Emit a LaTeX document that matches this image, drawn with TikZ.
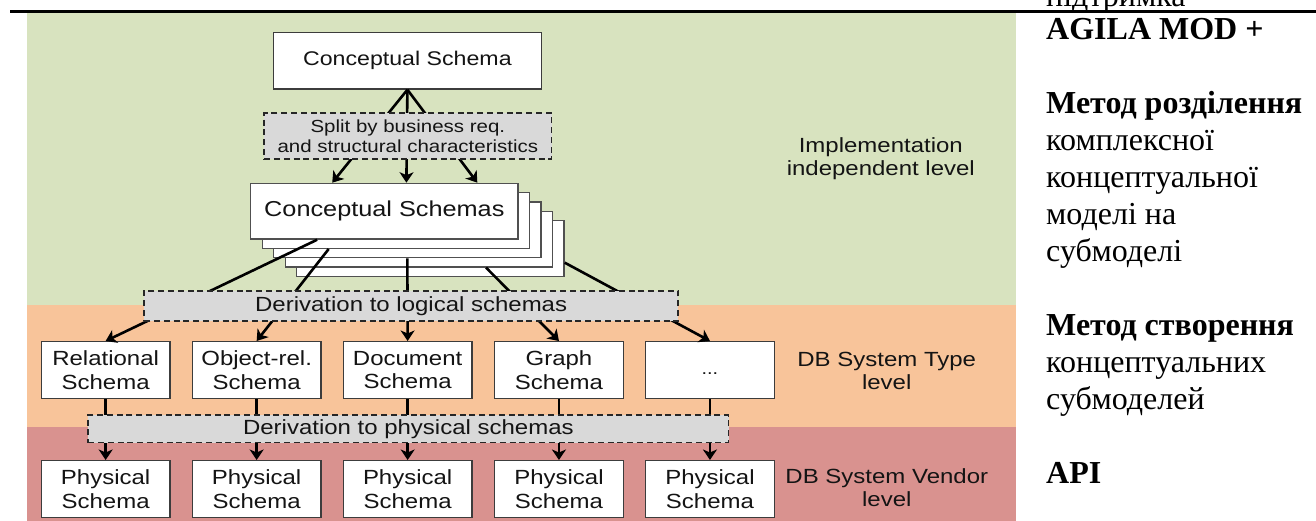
\documentclass[tikz,border=0pt]{standalone}
\usepackage{fontspec}
\setmainfont{Liberation Serif}
\newfontfamily\dg[FakeStretch=1.17]{Liberation Sans}
\usetikzlibrary{arrows.meta,calc}
\definecolor{bandgreen}{RGB}{216,227,191}
\definecolor{bandorange}{RGB}{248,196,154}
\definecolor{bandred}{RGB}{217,146,143}
\definecolor{boxgray}{RGB}{217,217,217}
\definecolor{edge}{RGB}{60,60,60}
\definecolor{ink}{RGB}{20,20,20}

\begin{document}
\begin{tikzpicture}[x=1pt,y=-1pt,
  box/.style={draw=edge, fill=white, line width=1.4pt, inner sep=0pt, align=center,
    text=ink, anchor=north west, font=\dg\fontsize{20.5}{23.4}\selectfont},
  typebox/.style={box, minimum width=128.5pt, minimum height=56.7pt},
  stackbox/.style={box, draw=edge!90, minimum width=267.3pt, minimum height=55.6pt,
    font=\dg\fontsize{21.6}{24}\selectfont},
  dashbox/.style={draw=black!85, fill=boxgray, line width=1.7pt, dash pattern=on 6pt off 3.8pt,
    inner sep=0pt, align=center, text=ink, anchor=north west, font=\dg\fontsize{20.5}{23.4}\selectfont},
  conn/.style={line width=2.6pt, draw=black},
  arr/.style={conn, -{Stealth[length=10.5pt,width=14pt,inset=3pt]}},
  lab/.style={align=center, text=ink, font=\dg\fontsize{20.5}{23}\selectfont},
  rtn/.style={anchor=base west, inner sep=0pt, font=\fontsize{32}{36.9}\selectfont},
  rtb/.style={anchor=base west, inner sep=0pt, font=\bfseries\fontsize{32}{36.9}\selectfont}]

\useasboundingbox (0,0) rectangle (1316,521);
\clip (0,0) rectangle (1316,521);

% level bands
\fill[bandgreen]  (26.7,13.3)  rectangle (1015.5,305);
\fill[bandorange] (26.7,305)   rectangle (1015.5,426.7);
\fill[bandred]    (26.7,426.7) rectangle (1015.5,521);

% top conceptual schema
\node[box, minimum width=268pt, minimum height=56.6pt, font=\dg\fontsize{19.8}{23}\selectfont]
  (cs) at (272.7,31.7) {Conceptual Schema};

% stack of conceptual sub-schemas, back to front
\node[stackbox] (s5) at (296,219.9) {};
\node[stackbox] (s4) at (284.5,210.6) {};
\node[stackbox] (s3) at (273,201.3) {};
\node[stackbox] (s2) at (261.5,192) {};
\node[stackbox] (s1) at (250,182.7) {Conceptual Schemas};

% logical schemas per DB system type
\node[typebox] (l1) at (40.7,341)  {Relational\\Schema};
\node[typebox] (l2) at (191.7,341) {Object-rel.\\Schema};
\node[typebox] (l3) at (342.7,341) {Document\\Schema};
\node[typebox] (l4) at (494,341)   {Graph\\Schema};
\node[typebox, font=\dg\fontsize{17}{20}\selectfont] (l5) at (645,341) {\strut...};

% physical schemas per DB system vendor
\node[typebox] (p1) at (40.7,460)  {Physical\\Schema};
\node[typebox] (p2) at (191.7,460) {Physical\\Schema};
\node[typebox] (p3) at (342.7,460) {Physical\\Schema};
\node[typebox] (p4) at (494,460)   {Physical\\Schema};
\node[typebox] (p5) at (645,460)   {Physical\\Schema};

% split into conceptual sub-schemas
\draw[arr] (cs.south) -- ($(s1.north west)!0.306!(s1.north east)$);
\draw[arr] (cs.south) -- ($(s1.north west)!0.582!(s1.north east)$);
\draw[arr] (cs.south) -- ($(s1.north west)!0.846!(s1.north east)$);

% derivation to logical schemas
\draw[arr] ($(s1.south west)!0.25!(s1.south east)$) -- (l1.north);
\draw[arr] ($(s2.south west)!0.25!(s2.south east)$) -- (l2.north);
\draw[arr] (s3.south) -- (l3.north);
\draw[arr] ($(s4.south west)!0.75!(s4.south east)$) -- (l4.north);
\draw[arr] ($(s5.north east)!0.75!(s5.south east)$) -- (l5.north);

% derivation to physical schemas
\foreach \i in {1,...,5} \draw[arr] (l\i.south) -- (p\i.north);

% process steps laid over the connectors
\node[dashbox, minimum width=287.4pt, minimum height=46pt, font=\dg\fontsize{17.5}{19.3}\selectfont]
  (split) at (263.3,112.3) {Split by business req.\\and structural characteristics};
\node[dashbox, minimum width=534pt, minimum height=30pt] (dlog) at (143.3,290) {Derivation to logical schemas};
\node[dashbox, minimum width=640.4pt, minimum height=27.7pt] (dphys) at (87.3,414) {Derivation to physical schemas};

% level names
\node[lab] (lv1) at (880.8,159)   {Implementation\\independent level};
\node[lab] (lv2) at (886.7,370.5) {DB System Type\\level};
\node[lab] (lv3) at (886.8,487.2) {DB System Vendor\\level};

% side notes
\node[rtn] (t0)  at (1046,6.5)   {підтримка};
\node[rtb] (t1)  at (1046,40)    {AGILA MOD +};
\node[rtb] (t2)  at (1046,113.8) {Метод розділення};
\node[rtn] (t3)  at (1046,150.7) {комплексної};
\node[rtn] (t4)  at (1046,187.6) {концептуальної};
\node[rtn] (t5)  at (1046,224.5) {моделі на};
\node[rtn] (t6)  at (1046,261.4) {субмоделі};
\node[rtb] (t7)  at (1046,335.2) {Метод створення};
\node[rtn] (t8)  at (1046,372.1) {концептуальних};
\node[rtn] (t9)  at (1046,409)   {субмоделей};
\node[rtb] (t10) at (1046,483)   {API};

% table rule
\draw[line width=2.6pt] (10,11.7) -- (1316,11.7);
\end{tikzpicture}
\end{document}
